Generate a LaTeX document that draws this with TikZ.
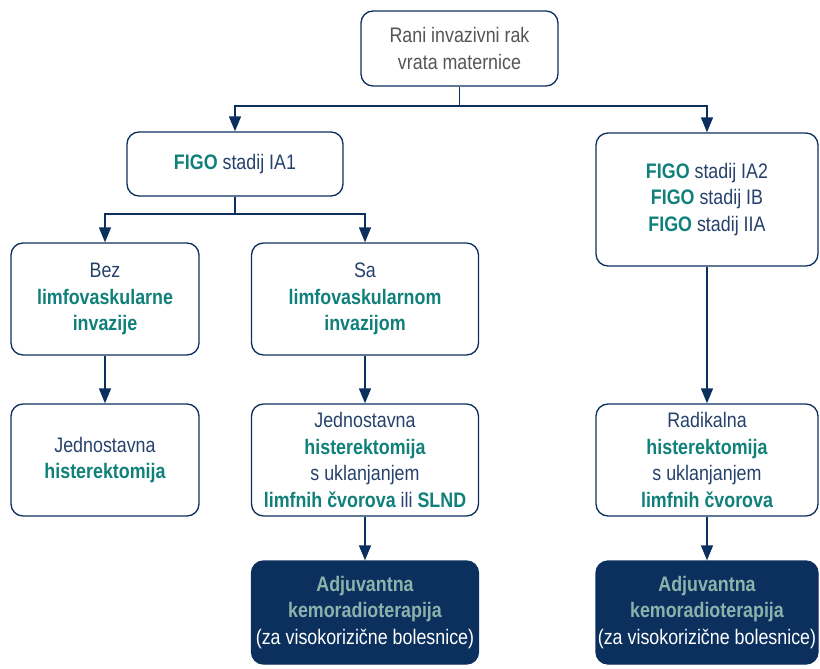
\documentclass[tikz,border=0pt]{standalone}
\usepackage{fontspec}
\setmainfont{Liberation Sans}[FakeStretch=0.85]
\usetikzlibrary{arrows.meta}
\definecolor{navy}{RGB}{12,48,94}
\definecolor{teal}{RGB}{16,128,122}
\definecolor{lteal}{RGB}{140,178,172}
\definecolor{gtext}{RGB}{85,85,85}
\definecolor{btext}{RGB}{38,66,108}
\tikzset{
  box/.style={draw=navy, line width=1.3pt, rounded corners=12pt, fill=white, align=center,
    inner sep=0pt, font=\fontsize{21}{26.5}\selectfont, text=btext},
  dbox/.style={draw=navy, line width=1.3pt, rounded corners=12pt, fill=navy, align=center,
    inner sep=0pt, font=\fontsize{21}{26.5}\selectfont, text=white},
  arr/.style={draw=navy, line width=1.5pt, -{Triangle[length=15pt,width=12pt]}},
  ln/.style={draw=navy, line width=1.5pt},
}
\newcommand{\tb}[1]{\textbf{\textcolor{teal}{#1}}}
\newcommand{\lb}[1]{\textbf{\textcolor{lteal}{#1}}}
\begin{document}
\begin{tikzpicture}[x=1pt,y=-1pt]
\useasboundingbox (0,0) rectangle (820,669);
\node[box, text=gtext, minimum width=197pt, minimum height=75pt] (top) at (459.5,48.5)
  {Rani invazivni rak\\vrata maternice};
\node[box, minimum width=216pt, minimum height=64pt] (ia1) at (235,164)
  {\tb{FIGO} stadij IA1};
\node[box, minimum width=222pt, minimum height=133pt] (ia2) at (707,199.5)
  {\tb{FIGO} stadij IA2\\\tb{FIGO} stadij IB\\\tb{FIGO} stadij IIA};
\node[box, minimum width=188pt, minimum height=112pt] (bez) at (105,299)
  {Bez\\\tb{limfovaskularne}\\\tb{invazije}};
\node[box, minimum width=227pt, minimum height=112pt] (sa) at (365,299)
  {Sa\\\tb{limfovaskularnom}\\\tb{invazijom}};
\node[box, minimum width=188pt, minimum height=112pt] (jh) at (105,460)
  {Jednostavna\\\tb{histerektomija}};
\node[box, minimum width=227pt, minimum height=112pt] (jhl) at (365,460)
  {Jednostavna\\\tb{histerektomija}\\s uklanjanjem\\\tb{limfnih čvorova} ili \tb{SLND}};
\node[box, minimum width=222pt, minimum height=112pt] (rh) at (707,460)
  {Radikalna\\\tb{histerektomija}\\s uklanjanjem\\\tb{limfnih čvorova}};
\node[dbox, minimum width=227pt, minimum height=103pt] (ad1) at (365,612.5)
  {\lb{Adjuvantna}\\\lb{kemoradioterapija}\\(za visokorizične bolesnice)};
\node[dbox, minimum width=222pt, minimum height=103pt] (ad2) at (707,612.5)
  {\lb{Adjuvantna}\\\lb{kemoradioterapija}\\(za visokorizične bolesnice)};
\coordinate (j1) at (459.5,106);
\coordinate (j2) at (235,214);
\draw[ln] (top.south) -- (j1);
\draw[arr] (j1) -| (ia1.north);
\draw[arr] (j1) -| (ia2.north);
\draw[ln] (ia1.south) -- (j2);
\draw[arr] (j2) -| (bez.north);
\draw[arr] (j2) -| (sa.north);
\draw[arr] (bez.south) -- (jh.north);
\draw[arr] (sa.south) -- (jhl.north);
\draw[arr] (ia2.south) -- (rh.north);
\draw[arr] (jhl.south) -- (ad1.north);
\draw[arr] (rh.south) -- (ad2.north);
\end{tikzpicture}
\end{document}
